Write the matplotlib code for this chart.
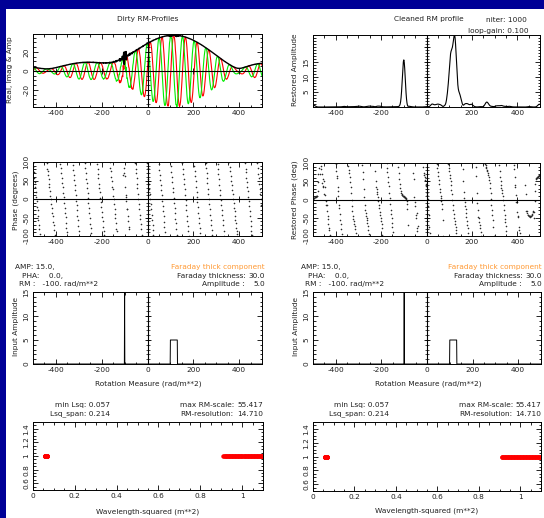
import numpy as np
import matplotlib
matplotlib.use("Agg")
import matplotlib.pyplot as plt
from matplotlib.ticker import MultipleLocator, FuncFormatter
from matplotlib.patches import Rectangle

W, H = 544, 518

# lambda^2 coverage (m^2)
lsq_low = np.linspace(0.05669, 0.0677, 60)
lsq_band = np.linspace(0.91, 1.124, 60)

# input Faraday spectrum (from the panel annotations)
thin_rm, thin_amp, thin_pha = -100.0, 15.0, 0.0
thick_lo, thick_hi, thick_amp = 100.0, 130.0, 5.0

# clean settings
niter, loop_gain = 1000, 0.1
rm_resolution = 14.710

rm_step = 2.0
phi = np.arange(-500, 501, rm_step)
phi_in = np.arange(-500, 501, 1.0)

# ---- input model --------------------------------------------------------
model_in = np.zeros_like(phi_in)
model_in[phi_in == thin_rm] = thin_amp
model_in[(phi_in >= thick_lo) & (phi_in <= thick_hi)] = thick_amp

# ---- RM synthesis -------------------------------------------------------
lsq = np.concatenate([lsq_low, lsq_band])
K = len(lsq)
pol = (model_in * np.exp(1j * np.radians(thin_pha))) @ np.exp(2j * np.outer(phi_in, lsq))
dirty = np.exp(-2j * np.outer(phi, lsq)) @ pol / K

phi2 = np.arange(-1000, 1001, rm_step)
rmsf = np.exp(-2j * np.outer(phi2, lsq)).sum(axis=1) / K

# ---- RM clean -----------------------------------------------------------
res = dirty.copy()
comps = np.zeros_like(dirty)
idx = np.arange(len(phi))
c0 = len(phi2) // 2
for _ in range(niter):
    k = np.argmax(np.abs(res))
    c = loop_gain * res[k]
    comps[k] += c
    res -= c * rmsf[c0 + idx - k]
bx = np.arange(-50, 51, rm_step)
beam = np.exp(-4 * np.log(2) * bx**2 / rm_resolution**2)
restored = np.convolve(comps, beam, mode="same") + res

# ---- figure -------------------------------------------------------------
plt.rcParams["axes.unicode_minus"] = False
plt.rcParams["font.family"] = "DejaVu Sans"
FS = 5.3
INK = "#202020"

fig = plt.figure(figsize=(W / 100, H / 100), dpi=100)
fig.patch.set_facecolor("#000096")
fig.add_artist(Rectangle((6 / W, 0), 1, 1 - 9 / H, transform=fig.transFigure,
                         facecolor="white", edgecolor="none", zorder=-5))


def txt(x, y, s, ha="left", va="center", **kw):
    fig.text(x / W, 1 - y / H, s, ha=ha, va=va, fontsize=FS, color=kw.pop("color", INK), **kw)


def panel(x0, y0, x1, y1, xmaj, xmin, ymaj, ymin):
    ax = fig.add_axes([x0 / W, 1 - y1 / H, (x1 - x0) / W, (y1 - y0) / H])
    ax.xaxis.set_major_locator(MultipleLocator(xmaj))
    ax.xaxis.set_minor_locator(MultipleLocator(xmin))
    ax.yaxis.set_major_locator(MultipleLocator(ymaj))
    ax.yaxis.set_minor_locator(MultipleLocator(ymin))
    ax.tick_params(which="both", direction="in", top=True, right=True,
                   labelsize=FS, labelcolor=INK, width=0.6, pad=2.5)
    ax.tick_params(which="major", length=3.5)
    ax.tick_params(which="minor", length=1.8)
    ax.tick_params(axis="y", labelrotation=90)
    for s in ax.spines.values():
        s.set_linewidth(0.7)
    return ax


def zero_axes(ax, ylo, yhi, ymaj, ymin, horiz=True):
    ax.axvline(0, color="k", lw=0.8, zorder=4)
    ys = np.arange(np.ceil(ylo / ymin) * ymin, yhi + 1e-9, ymin)
    ax.plot(np.zeros_like(ys), ys, ls="none", marker="_", ms=2.2, mew=0.5, color="k", zorder=4)
    ym = np.arange(np.ceil(ylo / ymaj) * ymaj, yhi + 1e-9, ymaj)
    ax.plot(np.zeros_like(ym), ym, ls="none", marker="_", ms=4.5, mew=0.6, color="k", zorder=4)
    if horiz:
        ax.axhline(0, color="k", lw=0.8, zorder=4)
        xs = np.array([-400, -200, 200, 400])
        ax.plot(xs, np.zeros_like(xs), ls="none", marker="|", ms=5, mew=0.6, color="k", zorder=4)


def fix_ylabels(ax):
    for lab in ax.get_yticklabels():
        lab.set_va("center")


amp = np.abs(dirty)
famp = np.abs(restored)

# row 1 left: dirty profiles
ax = panel(33, 34, 262, 107, 200, 50, 20, 5)
ax.plot(phi, dirty.real, color="#ff0000", lw=0.8)
ax.plot(phi, dirty.imag, color="#00ee00", lw=0.8)
ax.plot(phi, amp, color="k", lw=1.0)
ylo, yhi = min(dirty.real.min(), dirty.imag.min()), amp.max()
ax.set_xlim(-500, 500)
ax.set_ylim(ylo, yhi)
zero_axes(ax, ylo, yhi, 20, 5)
fix_ylabels(ax)

# row 1 right: restored amplitude
ax = panel(313, 35, 540, 107, 200, 50, 5, 1)
ax.plot(phi, famp, color="k", lw=0.8)
ax.set_xlim(-500, 500)
ax.set_ylim(famp.min(), famp.max())
ax.set_yticks([5, 10, 15])
zero_axes(ax, famp.min(), famp.max(), 5, 1, horiz=False)
fix_ylabels(ax)

# row 2: phases
for (x0, y0, x1, y1), spec in [((33, 162, 262, 236), dirty), ((313, 163, 540, 236), restored)]:
    ax = panel(x0, y0, x1, y1, 200, 50, 50, 10)
    ax.plot(phi, np.degrees(np.angle(spec)), ls="none", marker="o", ms=1.15, mew=0, color="#2a2a2a")
    ax.set_xlim(-500, 500)
    ax.set_ylim(-100, 100)
    zero_axes(ax, -100, 100, 50, 10)
    fix_ylabels(ax)

# row 3: input model
for x0, x1 in [(33, 262), (313, 541)]:
    ax = panel(x0, 292, x1, 364, 200, 50, 5, 1)
    ax.plot(phi_in, model_in, color="k", lw=0.7)
    ax.set_xlim(-500, 500)
    ax.set_ylim(0, 15)
    zero_axes(ax, 0, 15, 5, 1, horiz=False)
    fix_ylabels(ax)

# row 4: lambda^2 coverage
fmt = FuncFormatter(lambda v, p: "%g" % round(v, 3))
for x0, x1, y1 in [(33, 263, 490), (313, 541, 491)]:
    ax = panel(x0, 422, x1, y1, 0.2, 0.05, 0.2, 0.05)
    ax.plot(lsq, np.ones_like(lsq), ls="none", marker="o", ms=3.2, mew=0, color="#ff0000")
    ax.set_xlim(0, 1.1)
    ax.set_ylim(0.5, 1.5)
    ax.xaxis.set_major_formatter(fmt)
    ax.yaxis.set_major_formatter(fmt)
    fix_ylabels(ax)

# ---- texts --------------------------------------------------------------
txt(148, 19, "Dirty RM-Profiles", ha="center")
txt(429, 19, "Cleaned RM profile", ha="center")
txt(527, 20, "niter: %d" % niter, ha="right")
txt(529, 31, "loop-gain: %.3f" % loop_gain, ha="right")

yl = dict(rotation=90, ha="center")
txt(10, 70, "Real, Imag & Amp", **yl)
txt(295, 70, "Restored Amplitude", **yl)
txt(16, 200, "Phase (degrees)", **yl)
txt(295, 200, "Restored Phase (deg)", **yl)
txt(16, 326, "Input Amplitude", **yl)
txt(296, 326, "Input Amplitude", **yl)

txt(148, 384, "Rotation Measure (rad/m**2)", ha="center")
txt(428, 384, "Rotation Measure (rad/m**2)", ha="center")
txt(148, 512, "Wavelength-squared (m**2)", ha="center")
txt(427, 511, "Wavelength-squared (m**2)", ha="center")

for dx, rx in [(0, 265), (286, 542)]:
    txt(15 + dx, 267, "AMP: %.1f," % thin_amp)
    txt(22 + dx, 276, "PHA:    %.1f," % thin_pha)
    txt(19 + dx, 284, "RM :   %d. rad/m**2" % thin_rm)
    txt(rx, 267, "Faraday thick component", ha="right", color="#ff9933")
    txt(rx - 88, 276, "Faraday thickness:")
    txt(rx, 276, "%.1f" % (thick_hi - thick_lo), ha="right")
    txt(rx - 63, 284, "Amplitude :")
    txt(rx, 284, "%.1f" % thick_amp, ha="right")

min_lsq = lsq.min()
for dx, rx in [(0, 263), (279, 541)]:
    txt(110 + dx, 405, "min Lsq: %.3f" % min_lsq, ha="right")
    txt(110 + dx, 414, "Lsq_span: %.3f" % (lsq_band.max() - lsq_band.min()), ha="right")
    txt(180 + dx, 405, "max RM-scale:")
    txt(rx, 405, "%.3f" % (np.pi / min_lsq), ha="right")
    txt(180 + dx, 414, "RM-resolution:")
    txt(rx, 414, "%.3f" % rm_resolution, ha="right")

fig.savefig("out.png", dpi=100, facecolor=fig.get_facecolor())
